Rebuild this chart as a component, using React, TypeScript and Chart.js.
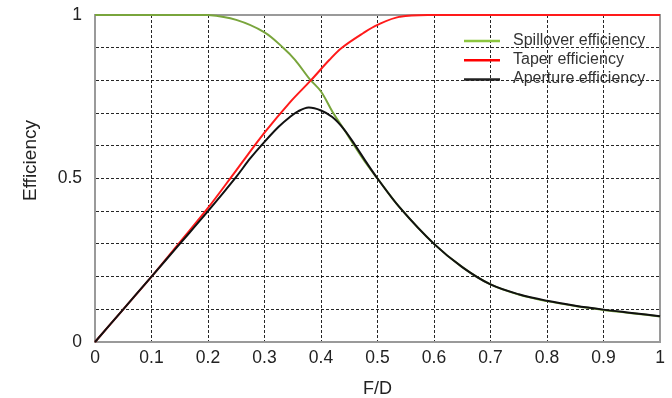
import React, { useEffect, useRef } from 'react';
import { Chart, registerables } from 'chart.js';

Chart.register(...registerables);

// Spillover efficiency (green)
const spillFD = [0, 0.05, 0.1, 0.15, 0.2, 0.25, 0.3, 0.333, 0.354, 0.38, 0.4, 0.42, 0.44, 0.46, 0.48, 0.5, 0.54, 0.6, 0.65, 0.7, 0.75, 0.8, 0.85, 0.9, 0.95, 1.0];
const spillEff = [1.0, 1.0, 1.0, 1.0, 1.0, 0.985, 0.947, 0.9, 0.863, 0.804, 0.766, 0.705, 0.652, 0.598, 0.546, 0.5, 0.41, 0.3, 0.229, 0.176, 0.145, 0.125, 0.11, 0.098, 0.088, 0.078];

// Taper efficiency (red)
const taperFD = [0, 0.05, 0.1, 0.15, 0.2, 0.25, 0.3, 0.345, 0.382, 0.415, 0.437, 0.475, 0.5, 0.54, 0.6, 0.7, 0.8, 0.9, 1.0];
const taperEff = [0, 0.1, 0.2, 0.305, 0.41, 0.525, 0.64, 0.733, 0.8, 0.863, 0.9, 0.945, 0.97, 0.995, 1.0, 1.0, 1.0, 1.0, 1.0];

// Aperture efficiency (black)
const apFD = [0, 0.05, 0.1, 0.15, 0.2, 0.25, 0.275, 0.3, 0.325, 0.345, 0.36, 0.378, 0.4, 0.42, 0.44, 0.46, 0.48, 0.5, 0.54, 0.6, 0.65, 0.7, 0.75, 0.8, 0.85, 0.9, 0.95, 1.0];
const apEff = [0, 0.1, 0.2, 0.3, 0.4, 0.505, 0.562, 0.612, 0.658, 0.688, 0.706, 0.717, 0.708, 0.688, 0.652, 0.603, 0.55, 0.5, 0.41, 0.3, 0.229, 0.176, 0.146, 0.126, 0.111, 0.099, 0.089, 0.079];

const seriesLabels = ['Spillover efficiency', 'Taper efficiency', 'Aperture efficiency'];
const yLabelValues = [0, 0.5, 1];
const xTitle = 'F/D';
const yTitle = 'Efficiency';

const FONT = '"Liberation Sans", Arial, sans-serif';

function pts(xs: number[], ys: number[]) {
  return xs.map((x, i) => ({ x, y: ys[i] }));
}

export default function App() {
  const ref = useRef<HTMLCanvasElement>(null);

  useEffect(() => {
    if (!ref.current) return;

    const frame = {
      id: 'frame',
      beforeDatasetsDraw(chart: any) {
        const { ctx, chartArea } = chart;
        ctx.save();
        ctx.setLineDash([]);
        ctx.strokeStyle = '#9a9a9a';
        ctx.lineWidth = 2;
        ctx.beginPath();
        ctx.moveTo(chartArea.left, chartArea.top);
        ctx.lineTo(chartArea.right, chartArea.top);
        ctx.lineTo(chartArea.right, chartArea.bottom);
        ctx.stroke();
        ctx.restore();
      },
    };

    const insideLegend = {
      id: 'insideLegend',
      afterDraw(chart: any) {
        const { ctx, chartArea } = chart;
        ctx.save();
        chart.data.datasets.forEach((ds: any, i: number) => {
          const y = chartArea.top + 26 + i * 19.3;
          const x0 = chartArea.right - 196;
          ctx.setLineDash([]);
          ctx.strokeStyle = ds.legendColor || ds.borderColor;
          ctx.lineWidth = 2.5;
          ctx.beginPath();
          ctx.moveTo(x0, y);
          ctx.lineTo(x0 + 36, y);
          ctx.stroke();
          ctx.fillStyle = '#333';
          ctx.font = '16px ' + FONT;
          ctx.textAlign = 'left';
          ctx.textBaseline = 'alphabetic';
          ctx.fillText(ds.label, x0 + 49, y + 3.5);
        });
        // y-axis title, slightly above the vertical centre as in the reference
        ctx.translate(31, chartArea.top + chartArea.height * 0.445);
        ctx.rotate(-Math.PI / 2);
        ctx.fillStyle = '#222';
        ctx.font = '19px ' + FONT;
        ctx.textAlign = 'center';
        ctx.textBaseline = 'middle';
        ctx.fillText(yTitle, 0, 0);
        ctx.restore();
      },
    };

    const edgeTransparent = (c: any) => {
      const v = c.tick ? c.tick.value : 0;
      return Math.abs(v) < 1e-9 || Math.abs(v - 1) < 1e-9 ? 'rgba(0,0,0,0)' : 'rgba(0,0,0,0.85)';
    };

    const common = {
      borderWidth: 2,
      pointRadius: 0,
      tension: 0.35,
      clip: 4,
    };

    const chart = new Chart(ref.current, {
      type: 'line',
      data: {
        datasets: [
          {
            ...common,
            label: seriesLabels[0],
            data: pts(spillFD, spillEff),
            borderColor: '#79a53c',
            legendColor: '#8cc63f',
            order: 2,
          } as any,
          {
            ...common,
            label: seriesLabels[1],
            data: pts(taperFD, taperEff),
            borderColor: '#ff1a1a',
            legendColor: '#ff0000',
            order: 1,
          } as any,
          {
            ...common,
            label: seriesLabels[2],
            data: pts(apFD, apEff),
            borderColor: '#111111',
            legendColor: '#222222',
            order: 0,
          } as any,
        ],
      },
      options: {
        animation: false,
        responsive: false,
        devicePixelRatio: 1,
        events: [],
        layout: { padding: { left: 0, right: 12, top: 15, bottom: 0 } },
        plugins: {
          legend: { display: false },
          tooltip: { enabled: false },
        },
        scales: {
          x: {
            type: 'linear',
            position: 'bottom',
            min: 0,
            max: 1,
            afterFit: (s: any) => { s.height = 56; },
            ticks: {
              stepSize: 0.1,
              padding: 6,
              color: '#222',
              font: { family: FONT, size: 17.5 },
              maxRotation: 0,
              callback: (v: any) => String(Number(Number(v).toFixed(1))),
            },
            grid: { color: edgeTransparent, lineWidth: 1, drawTicks: false },
            border: { display: true, color: '#9a9a9a', width: 2, dash: [3, 2] },
            title: {
              display: true,
              text: xTitle,
              color: '#222',
              font: { family: FONT, size: 18, lineHeight: 1 },
              padding: { top: 0, bottom: 0 },
            },
          },
          y: {
            type: 'linear',
            position: 'left',
            min: 0,
            max: 1,
            afterFit: (s: any) => { s.width = 95; },
            ticks: {
              stepSize: 0.1,
              padding: 0,
              color: '#222',
              font: { family: FONT, size: 17.5 },
              autoSkip: false,
              callback: (v: any) => {
                const n = Number(v);
                const hit = yLabelValues.find((t) => Math.abs(t - n) < 1e-9);
                return hit === undefined ? '' : String(hit);
              },
            },
            grid: {
              color: edgeTransparent,
              lineWidth: 1,
              drawTicks: true,
              tickLength: 13,
              tickColor: 'rgba(0,0,0,0)',
            },
            border: { display: true, color: '#9a9a9a', width: 2, dash: [3, 2] },
          },
        },
      } as any,
      plugins: [frame, insideLegend],
    });

    return () => chart.destroy();
  }, []);

  return (
    <div style={{ position: 'fixed', left: 0, top: 0, width: 672, height: 398, background: '#fff' }}>
      <canvas ref={ref} width={672} height={398} style={{ width: 672, height: 398, display: 'block' }} />
    </div>
  );
}
